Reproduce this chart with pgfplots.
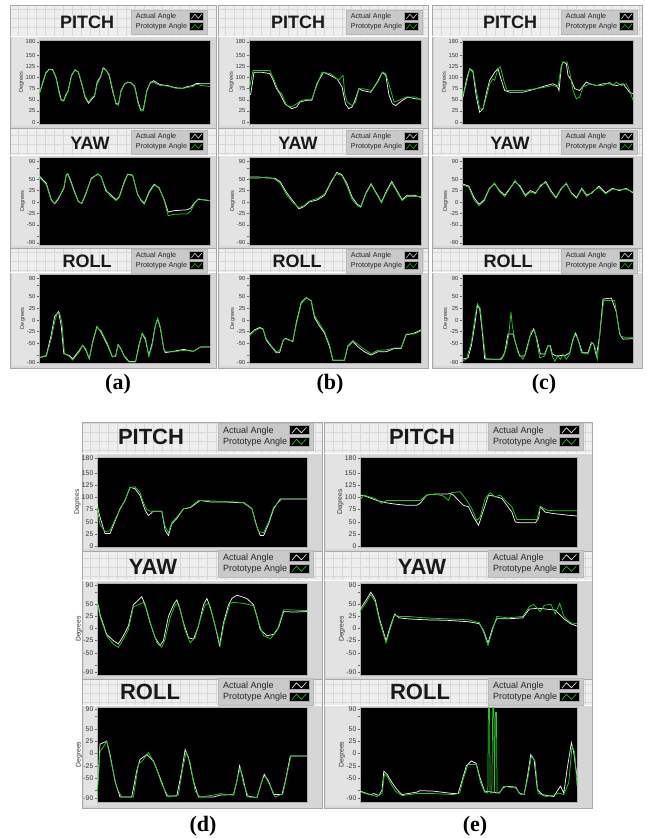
\documentclass[border=0pt]{standalone}
\usepackage{fontspec}
\setmainfont{Liberation Sans}
\newfontfamily\timesf{Liberation Serif}
\usepackage{pgfplots}
\pgfplotsset{compat=1.18}
\definecolor{pnlbg}{HTML}{D6D6D6}
\definecolor{hdrbg}{HTML}{EEEEEE}
\definecolor{hdrgrid}{HTML}{D8D8D8}
\definecolor{mrg}{HTML}{E3E3E3}
\definecolor{edge}{HTML}{A8A8A8}
\definecolor{lgray}{HTML}{C9C9C9}
\definecolor{lvgreen}{HTML}{22C822}
\definecolor{lvwhite}{HTML}{EEEEEE}

\newcommand\lvpanel[6]{%
 \fill[pnlbg] (#1,#2) rectangle (#3,#4);
 \fill[mrg] (#1+2,#5) rectangle (#6,#4-2);
 \begin{scope}
  \clip (#1,#2) rectangle (#3,#5);
  \fill[hdrbg] (#1,#2) rectangle (#3,#5);
  \draw[hdrgrid, line width=0.4pt, step=9] (#1,#2) grid (#3,#5);
 \end{scope}
 \draw[edge, line width=0.6pt] (#1,#2) rectangle (#3,#4);
 \draw[white, line width=0.6pt] (#1,#5) -- (#3,#5);
}

\pgfplotsset{
 lvbase/.style={scale only axis, anchor=south west,
  axis background/.style={fill=black},
  axis line style={draw=gray!60, line width=0.4pt},
  xtick=\empty, ytick pos=left, tick align=outside,
  major tick length=2.5pt, minor tick length=2.5pt,
  every tick/.style={black!60, line width=0.4pt},
  /pgf/number format/assume math mode=true,
  ylabel={Degrees}, ylabel shift=-3pt,
  yticklabel style={text=black!80, inner sep=1pt},
  ylabel style={text=black!80},
  legend plot pos=right, legend cell align=left,
  legend style={fill=lgray, draw=gray!55, text=black!85, inner xsep=2pt, inner ysep=1.5pt, row sep=-0.5pt, at={(1,1)}, anchor=south east},
 },
 rowtop/.style={
  yticklabel style={font=\fontsize{5.8}{6}\selectfont},
  ylabel style={font=\fontsize{5.6}{6}\selectfont},
  legend style={font=\fontsize{7.2}{8.2}\selectfont, inner xsep=3pt},
  legend image code/.code={\fill[black,draw=gray!70] (0pt,-3.5pt) rectangle (14pt,4.5pt);
    \draw[##1,line width=0.5pt] (2pt,-2pt)--(5.5pt,2.5pt)--(9pt,-1.5pt)--(12.5pt,3pt);},
 },
 rowbot/.style={
  yticklabel style={font=\fontsize{6.8}{7}\selectfont},
  ylabel style={font=\fontsize{6.8}{7}\selectfont},
  legend style={font=\fontsize{9}{10}\selectfont, inner xsep=3pt},
  legend image code/.code={\fill[black,draw=gray!70] (0pt,-4pt) rectangle (20pt,5pt);
    \draw[##1,line width=0.6pt] (2.5pt,-2.5pt)--(7pt,3pt)--(12pt,-2pt)--(17pt,3.5pt);},
 },
 pitch/.style={ytick={0,25,50,75,100,125,150,180}},
 yr/.style={ytick={-90,-50,-25,0,25,50,90}, minor ytick={-75,75}},
 legpos/.style 2 args={legend style={xshift=#1, yshift=#2}},
 act/.style={draw=lvwhite, line width=0.75pt},
 pro/.style={draw=lvgreen, line width=0.75pt},
}

\begin{document}
\begin{tikzpicture}[x=1pt,y=1pt]
\fill[white] (0,0) rectangle (647,-838);
\useasboundingbox (0,0) rectangle (647,-838);
\begin{scope}[yscale=-1]
 % column a
 \lvpanel{10}{5}{216}{128}{36}{39}
 \lvpanel{10}{128}{216}{248}{155}{39}
 \lvpanel{10}{248}{216}{368}{272}{39}
 % column b
 \lvpanel{218}{5}{428}{128}{36}{249}
 \lvpanel{218}{128}{428}{248}{155}{249}
 \lvpanel{218}{248}{428}{368}{272}{249}
 % column c
 \lvpanel{432}{5}{642}{128}{36}{462}
 \lvpanel{432}{128}{642}{248}{155}{462}
 \lvpanel{432}{248}{642}{368}{272}{462}
 % column d
 \lvpanel{82}{422}{322}{551}{453}{97}
 \lvpanel{82}{551}{322}{679}{580}{97}
 \lvpanel{82}{679}{322}{808}{705}{97}
 % column e
 \lvpanel{324}{422}{592}{551}{453}{360}
 \lvpanel{324}{551}{592}{679}{580}{360}
 \lvpanel{324}{679}{592}{808}{705}{360}
 % titles
 \begin{scope}[every node/.style={font=\fontsize{18}{18}\selectfont\bfseries, text=black!90}]
  \node at (87,22) {PITCH}; \node at (90,143) {YAW}; \node at (87,261) {ROLL};
  \node at (298,22) {PITCH}; \node at (298,143) {YAW}; \node at (297,261) {ROLL};
  \node at (510,22) {PITCH}; \node at (510,143) {YAW}; \node at (508,261) {ROLL};
 \end{scope}
 \begin{scope}[every node/.style={font=\fontsize{22}{22}\selectfont\bfseries, text=black!90}]
  \node at (151,437) {PITCH}; \node at (153,567) {YAW}; \node at (150,692) {ROLL};
  \node at (422,437) {PITCH}; \node at (422,567) {YAW}; \node at (420,692) {ROLL};
 \end{scope}
 \begin{scope}[every node/.style={font=\timesf\fontsize{22}{22}\selectfont\bfseries}]
  \node at (118,384) {(a)}; \node at (330,384) {(b)}; \node at (544,384) {(c)};
  \node at (203,826) {(d)}; \node at (475,826) {(e)};
 \end{scope}
\end{scope}

%%%%%%%%%%%%%%%%%%%% (a) %%%%%%%%%%%%%%%%%%%%
\begin{axis}[lvbase,rowtop,pitch,at={(39pt,-124pt)},width=171pt,height=84pt,
 xmin=0,xmax=100,ymin=-4.5,ymax=184.5,legpos={-3pt}{6pt}]
\addplot[act] coordinates {(0,62)(2,85)(4,110)(6,119)(8,118)(10,100)(12,65)(13,50)(14.5,48)(15.5,60)(17,70)(19,105)(21,117)(23,112)(25,85)(27,55)(29,42)(31,52)(32.5,58)(34,90)(36,102)(37.5,122)(39,118)(41,105)(43,70)(45,42)(46.5,40)(48,70)(50,85)(52,90)(54,88)(56,80)(58,45)(59.5,27)(61,28)(63,70)(65,88)(67,93)(69,88)(71,84)(75,82)(80,77)(84,76)(87,80)(90,82)(92,87)(95,86)(100,86)};
\addplot[pro] coordinates {(0,60)(2,88)(4,112)(6,118)(8,117)(10,98)(12,60)(13,48)(14.5,47)(15.5,57)(17,68)(19,103)(21,118)(23,113)(25,87)(27,58)(29,45)(31,55)(32.5,60)(34,85)(36,100)(37.5,120)(39,117)(41,108)(43,75)(45,40)(46.5,38)(48,72)(50,86)(52,89)(54,87)(56,78)(58,40)(59.5,25)(61,25)(63,68)(65,87)(67,90)(69,85)(71,82)(75,81)(80,76)(84,75)(87,78)(90,80)(92,85)(95,82)(100,80)};
\legend{Actual Angle,Prototype Angle}
\end{axis}

\begin{axis}[lvbase,rowtop,yr,at={(39pt,-245pt)},width=171pt,height=88pt,
 xmin=113,xmax=628,ymin=-94.4,ymax=98.8,legpos={-3pt}{3pt}]
\addplot[act] coordinates {(113,58)(135,41)(150,5)(160,-4)(170,5)(180,19)(188,30)(195,59)(200,62)(208,48)(220,23)(232,1)(242,-3)(255,19)(270,52)(290,61)(300,56)(315,23)(325,19)(345,5)(355,12)(370,45)(380,61)(395,59)(410,16)(420,5)(430,-3)(445,23)(460,39)(475,30)(490,5)(502,-22)(520,-19)(560,-17)(570,-13)(580,-3)(592,6)(628,3)};
\addplot[pro] coordinates {(113,55)(135,38)(150,3)(160,-3)(170,8)(180,20)(188,33)(195,60)(200,60)(208,45)(220,20)(232,0)(242,-2)(255,22)(270,50)(290,62)(300,55)(315,28)(325,15)(345,3)(355,10)(370,42)(380,60)(395,58)(410,18)(420,3)(430,-5)(445,20)(460,37)(475,32)(490,3)(502,-30)(520,-27)(560,-26)(570,-20)(580,-5)(592,7)(628,3)};
\legend{Actual Angle,Prototype Angle}
\end{axis}

\begin{axis}[lvbase,rowtop,yr,at={(39pt,-363pt)},width=171pt,height=89pt,
 xmin=113,xmax=630,ymin=-92.1,ymax=98.6,legpos={-3pt}{1pt}]
\addplot[act] coordinates {(113,-81)(135,-76)(150,-32)(160,7)(172,18)(180,-11)(188,-72)(205,-76)(215,-83)(235,-65)(245,-54)(255,-65)(265,-83)(275,-47)(288,-14)(300,-25)(320,-54)(335,-79)(345,-76)(352,-53)(360,-61)(370,-76)(385,-89)(405,-89)(415,-54)(425,-29)(435,-43)(445,-76)(455,-50)(465,-11)(472,2)(480,-18)(490,-61)(495,-70)(520,-67)(550,-63)(580,-67)(600,-58)(630,-58)};
\addplot[pro] coordinates {(113,-80)(135,-78)(150,-40)(160,-5)(168,15)(175,16)(182,-5)(190,-72)(205,-78)(215,-86)(235,-68)(245,-54)(255,-62)(265,-83)(275,-50)(288,-16)(300,-22)(320,-50)(335,-78)(345,-78)(352,-52)(360,-60)(370,-78)(385,-90)(405,-90)(415,-58)(425,-28)(435,-38)(445,-78)(455,-55)(465,-12)(472,4)(480,-15)(490,-60)(495,-68)(520,-68)(550,-65)(580,-67)(600,-58)(630,-57)};
\legend{Actual Angle,Prototype Angle}
\end{axis}

%%%%%%%%%%%%%%%%%%%% (b) %%%%%%%%%%%%%%%%%%%%
\begin{axis}[lvbase,rowtop,pitch,at={(249pt,-124pt)},width=172pt,height=84pt,
 xmin=103,xmax=615,ymin=-4.5,ymax=184.5,legpos={1pt}{6pt}]
\addplot[act] coordinates {(103,60)(108,62)(118,112)(140,112)(165,109)(175,94)(185,75)(195,64)(210,41)(230,30)(245,34)(255,45)(275,49)(290,49)(305,86)(325,112)(345,105)(365,97)(380,79)(390,41)(400,30)(410,34)(420,52)(430,75)(440,71)(465,67)(485,90)(500,112)(510,105)(520,60)(530,41)(540,37)(560,49)(575,56)(600,52)(615,52)};
\addplot[pro] coordinates {(103,71)(115,116)(165,116)(178,94)(190,71)(200,64)(215,37)(230,34)(245,41)(260,49)(290,52)(305,82)(320,112)(345,109)(370,94)(380,103)(383,105)(388,64)(395,45)(410,37)(420,45)(430,75)(440,75)(470,71)(490,94)(500,112)(510,109)(525,71)(535,45)(550,49)(570,56)(600,56)(615,49)};
\legend{Actual Angle,Prototype Angle}
\end{axis}

\begin{axis}[lvbase,rowtop,yr,at={(249pt,-245pt)},width=172pt,height=88pt,
 xmin=0,xmax=100,ymin=-94.4,ymax=98.8,legpos={1pt}{3pt}]
\addplot[act] coordinates {(0,55)(5,55)(10,53)(15,52)(18,45)(22,20)(26,0)(29,-15)(32,-10)(35,0)(40,5)(44,15)(48,45)(51,65)(54,60)(57,40)(60,10)(63,-5)(65,-10)(68,20)(71,40)(74,20)(77,0)(80,25)(83,45)(86,25)(89,5)(92,15)(96,15)(100,10)};
\addplot[pro] coordinates {(0,52)(5,52)(10,55)(15,50)(18,42)(22,15)(26,-3)(29,-12)(32,-8)(35,2)(40,8)(44,18)(48,48)(51,62)(54,58)(57,35)(60,5)(63,-8)(65,-12)(68,18)(71,38)(74,18)(77,-2)(80,22)(83,42)(86,22)(89,3)(92,12)(96,12)(100,12)};
\legend{Actual Angle,Prototype Angle}
\end{axis}

\begin{axis}[lvbase,rowtop,yr,at={(249pt,-363pt)},width=172pt,height=89pt,
 xmin=103,xmax=620,ymin=-92.1,ymax=98.6,legpos={1pt}{1pt}]
\addplot[act] coordinates {(103,-32)(120,-21)(135,-16)(145,-19)(155,-43)(170,-57)(185,-70)(195,-70)(205,-46)(212,-39)(225,-43)(235,-46)(245,-6)(260,38)(275,48)(290,41)(300,5)(315,-13)(330,-28)(345,-57)(355,-86)(390,-86)(400,-57)(415,-46)(430,-57)(450,-68)(470,-75)(490,-68)(515,-68)(540,-61)(560,-61)(575,-32)(600,-28)(620,-21)};
\addplot[pro] coordinates {(103,-35)(120,-23)(135,-18)(145,-20)(155,-40)(170,-55)(185,-68)(195,-66)(205,-44)(212,-40)(225,-44)(235,-44)(245,-10)(260,35)(275,47)(290,42)(300,10)(315,-8)(330,-25)(345,-53)(355,-86)(390,-86)(400,-55)(415,-44)(430,-52)(450,-63)(470,-72)(490,-65)(515,-64)(540,-60)(560,-60)(575,-30)(600,-30)(620,-23)};
\legend{Actual Angle,Prototype Angle}
\end{axis}

%%%%%%%%%%%%%%%%%%%% (c) %%%%%%%%%%%%%%%%%%%%
\begin{axis}[lvbase,rowtop,pitch,at={(462pt,-124pt)},width=171pt,height=84pt,
 xmin=97,xmax=610,ymin=-4.5,ymax=184.5,legpos={4pt}{6pt}]
\addplot[act] coordinates {(97,56)(100,56)(110,94)(120,120)(130,112)(140,56)(150,22)(160,30)(170,64)(180,94)(195,112)(205,120)(215,94)(225,71)(240,67)(280,67)(320,75)(350,82)(370,86)(382,82)(388,71)(395,124)(400,135)(410,131)(415,105)(425,94)(435,75)(450,71)(470,90)(480,86)(500,82)(520,86)(540,86)(560,82)(580,86)(600,67)(610,64)};
\addplot[pro] coordinates {(97,56)(108,79)(120,120)(130,116)(140,71)(150,30)(160,30)(170,56)(180,86)(190,97)(195,94)(205,120)(212,124)(222,94)(232,71)(280,71)(320,75)(350,79)(370,82)(385,79)(395,127)(400,135)(412,135)(420,112)(430,71)(440,52)(450,56)(460,79)(480,86)(500,82)(520,82)(540,90)(550,82)(560,90)(575,82)(590,86)(600,71)(610,49)};
\legend{Actual Angle,Prototype Angle}
\end{axis}

\begin{axis}[lvbase,rowtop,yr,at={(462pt,-245pt)},width=171pt,height=88pt,
 xmin=0,xmax=100,ymin=-94.4,ymax=98.8,legpos={4pt}{3pt}]
\addplot[act] coordinates {(0,40)(4,35)(7,10)(10,-5)(13,5)(16,30)(19,40)(22,25)(25,15)(28,30)(31,45)(34,35)(37,15)(40,25)(43,20)(46,35)(49,45)(52,25)(55,10)(58,30)(61,40)(64,20)(67,10)(70,30)(73,15)(76,20)(80,35)(84,20)(88,30)(92,25)(96,30)(100,20)};
\addplot[pro] coordinates {(0,38)(4,32)(7,5)(10,-8)(13,2)(16,28)(19,42)(22,22)(25,12)(28,28)(31,48)(34,32)(37,12)(40,22)(43,18)(46,38)(49,42)(52,22)(55,8)(58,28)(61,42)(64,18)(67,8)(70,28)(73,12)(76,22)(80,32)(84,18)(88,28)(92,28)(96,28)(100,22)};
\legend{Actual Angle,Prototype Angle}
\end{axis}

\begin{axis}[lvbase,rowtop,yr,at={(462pt,-363pt)},width=171pt,height=89pt,
 xmin=97,xmax=610,ymin=-92.1,ymax=98.6,legpos={4pt}{1pt}]
\addplot[act] coordinates {(97,-84)(115,-81)(125,-55)(135,-12)(143,31)(150,24)(158,-27)(165,-83)(190,-84)(215,-84)(225,-70)(235,-30)(250,-30)(260,-55)(270,-77)(285,-77)(300,-37)(312,-19)(322,-41)(332,-73)(345,-73)(355,-55)(362,-55)(368,-73)(380,-77)(395,-76)(405,-77)(420,-70)(430,-41)(438,-28)(448,-48)(458,-70)(475,-70)(485,-48)(492,-52)(500,-77)(510,-34)(520,45)(545,47)(560,17)(570,-30)(580,-41)(610,-40)};
\addplot[pro] coordinates {(97,-88)(110,-84)(125,-48)(135,2)(143,35)(152,24)(158,-19)(168,-84)(210,-84)(222,-77)(232,-55)(238,-27)(244,17)(248,-12)(255,-41)(265,-70)(280,-84)(292,-63)(305,-23)(315,-23)(322,-48)(330,-81)(345,-77)(355,-55)(360,-55)(368,-77)(375,-88)(385,-77)(392,-84)(400,-73)(410,-84)(420,-73)(435,-30)(445,-41)(455,-70)(475,-73)(487,-48)(495,-55)(503,-84)(512,-19)(522,42)(555,42)(563,2)(572,-34)(585,-37)(610,-37)};
\legend{Actual Angle,Prototype Angle}
\end{axis}

%%%%%%%%%%%%%%%%%%%% (d) %%%%%%%%%%%%%%%%%%%%
\begin{axis}[lvbase,rowbot,pitch,at={(97pt,-547pt)},width=210pt,height=90pt,
 xmin=-9,xmax=620,ymin=-1.5,ymax=183,legpos={6pt}{7pt}]
\addplot[act] coordinates {(-9,88)(-4,70)(0,60)(15,26)(30,26)(50,60)(60,77)(75,94)(90,121)(105,118)(120,104)(135,74)(145,63)(160,72)(185,72)(195,33)(205,22)(215,46)(230,57)(250,77)(270,79)(300,94)(330,91)(370,91)(430,89)(455,77)(470,40)(480,22)(490,22)(505,46)(520,77)(540,97)(620,97)};
\addplot[pro] coordinates {(-9,80)(-4,60)(0,45)(15,30)(30,32)(50,62)(60,75)(75,95)(90,120)(105,122)(120,110)(130,90)(140,75)(150,72)(185,72)(195,40)(205,28)(215,48)(230,60)(250,77)(270,80)(295,94)(330,93)(370,92)(430,90)(455,78)(465,50)(475,30)(490,28)(505,50)(520,80)(545,97)(620,97)};
\legend{Actual Angle,Prototype Angle}
\end{axis}

\begin{axis}[lvbase,rowbot,yr,at={(97pt,-675pt)},width=210pt,height=92pt,
 xmin=-9,xmax=620,ymin=-96,ymax=94,legpos={6pt}{6pt}]
\addplot[act] coordinates {(-9,55)(-4,45)(0,29)(20,-12)(40,-25)(55,-32)(70,-15)(85,5)(100,49)(115,59)(125,66)(135,49)(150,12)(165,-19)(180,-35)(190,-25)(205,25)(220,49)(230,59)(240,39)(250,12)(265,-19)(280,-22)(295,5)(310,49)(320,62)(330,45)(345,5)(358,-35)(370,12)(385,49)(395,62)(410,69)(440,62)(460,49)(470,25)(480,-2)(500,-15)(520,-12)(535,2)(550,35)(580,34)(620,35)};
\addplot[pro] coordinates {(-9,52)(-4,40)(0,25)(20,-15)(40,-32)(55,-39)(70,-22)(85,-2)(100,45)(115,49)(130,54)(140,39)(155,2)(170,-29)(185,-39)(195,-22)(210,22)(225,49)(235,52)(245,25)(255,-5)(270,-29)(285,-19)(300,19)(315,49)(325,52)(335,32)(350,-8)(360,-35)(372,12)(390,52)(400,54)(430,52)(460,47)(475,12)(490,-15)(510,-21)(530,-5)(550,39)(620,37)};
\legend{Actual Angle,Prototype Angle}
\end{axis}

\begin{axis}[lvbase,rowbot,yr,at={(97pt,-802pt)},width=210pt,height=95pt,
 xmin=-9,xmax=620,ymin=-98,ymax=94,legpos={6pt}{2pt}]
\addplot[act] coordinates {(-9,-85)(-4,-30)(0,19)(20,25)(30,-2)(45,-56)(60,-88)(95,-88)(110,-35)(120,-12)(140,-2)(160,-15)(180,-49)(200,-86)(230,-86)(245,-35)(255,8)(265,-8)(280,-56)(295,-88)(340,-88)(360,-84)(400,-83)(410,-56)(418,-25)(428,-49)(440,-86)(470,-89)(485,-56)(492,-42)(505,-56)(520,-83)(545,-83)(555,-56)(570,-5)(620,-5)};
\addplot[pro] coordinates {(-9,-88)(-4,-40)(0,5)(10,13)(20,25)(35,-22)(50,-69)(65,-88)(100,-88)(115,-22)(130,-12)(145,2)(165,-22)(185,-62)(205,-88)(235,-83)(248,-29)(258,2)(270,-19)(285,-76)(300,-88)(340,-84)(360,-81)(400,-84)(412,-49)(420,-29)(430,-62)(445,-88)(470,-89)(488,-49)(495,-46)(510,-66)(525,-88)(548,-81)(558,-49)(572,-5)(620,-5)};
\legend{Actual Angle,Prototype Angle}
\end{axis}

%%%%%%%%%%%%%%%%%%%% (e) %%%%%%%%%%%%%%%%%%%%
\begin{axis}[lvbase,rowbot,pitch,at={(360pt,-547pt)},width=217pt,height=90pt,
 xmin=120,xmax=770,ymin=-1.5,ymax=183,legpos={6pt}{7pt}]
\addplot[act] coordinates {(120,105)(135,103)(170,94)(200,89)(230,86)(260,84)(290,84)(300,88)(320,105)(345,107)(380,107)(390,108)(400,105)(415,94)(430,84)(445,81)(460,60)(475,43)(490,74)(505,105)(520,103)(545,98)(560,84)(575,70)(585,50)(600,48)(645,48)(655,57)(660,81)(675,70)(700,67)(740,64)(770,62)};
\addplot[pro] coordinates {(120,94)(130,105)(165,98)(185,88)(200,94)(230,94)(300,94)(320,105)(345,107)(370,103)(385,94)(395,110)(420,112)(440,94)(455,77)(470,53)(480,60)(495,98)(510,110)(525,101)(540,105)(555,94)(575,81)(590,55)(650,55)(660,82)(680,74)(700,73)(770,73)};
\legend{Actual Angle,Prototype Angle}
\end{axis}

\begin{axis}[lvbase,rowbot,yr,at={(360pt,-675pt)},width=217pt,height=92pt,
 xmin=0,xmax=100,ymin=-96,ymax=94,legpos={6pt}{6pt}]
\addplot[act] coordinates {(0,40)(3,60)(5,75)(7,60)(9,20)(12,-25)(14,5)(16,30)(18,22)(22,20)(30,18)(40,17)(50,14)(55,10)(57,-5)(59,-30)(61,0)(63,20)(68,20)(75,22)(78,40)(82,42)(86,40)(90,38)(94,20)(97,10)(100,5)};
\addplot[pro] coordinates {(0,35)(3,55)(5,70)(7,55)(9,15)(12,-30)(14,0)(16,28)(18,25)(22,25)(30,22)(40,20)(50,18)(55,12)(57,-8)(59,-35)(61,-5)(63,25)(68,22)(75,25)(78,45)(80,50)(83,35)(85,48)(88,50)(90,30)(92,52)(94,25)(97,12)(100,10)};
\legend{Actual Angle,Prototype Angle}
\end{axis}

\begin{axis}[lvbase,rowbot,yr,at={(360pt,-802pt)},width=217pt,height=95pt,
 xmin=118,xmax=775,ymin=-98,ymax=94,legpos={6pt}{2pt}]
\addplot[act] coordinates {(118,-76)(140,-81)(150,-83)(160,-81)(175,-85)(185,-73)(190,-36)(200,-42)(215,-59)(230,-73)(245,-83)(290,-78)(300,-75)(340,-76)(400,-81)(415,-81)(425,-59)(440,-25)(455,-15)(470,-20)(480,-46)(495,-76)(540,-80)(550,-70)(560,-66)(590,-68)(600,-80)(615,-83)(625,-46)(635,-2)(645,-12)(655,-73)(670,-83)(705,-87)(715,-76)(725,-66)(735,-80)(745,-32)(758,22)(765,2)(775,-46)};
\addplot[pro] coordinates {(118,-78)(170,-87)(185,-80)(192,-42)(200,-46)(210,-59)(225,-76)(245,-85)(290,-81)(340,-81)(400,-83)(420,-80)(430,-53)(445,-22)(470,-22)(483,-59)(495,-78)(505,-80)(507,100)(510,100)(512,-80)(517,-80)(520,100)(523,100)(525,-80)(528,83)(531,83)(533,-80)(545,-76)(552,-66)(590,-70)(605,-83)(615,-83)(627,-46)(637,-5)(648,-15)(657,-80)(680,-87)(710,-83)(720,-80)(735,-83)(750,-59)(760,15)(768,2)(775,-66)};
\legend{Actual Angle,Prototype Angle}
\end{axis}
\end{tikzpicture}
\end{document}
